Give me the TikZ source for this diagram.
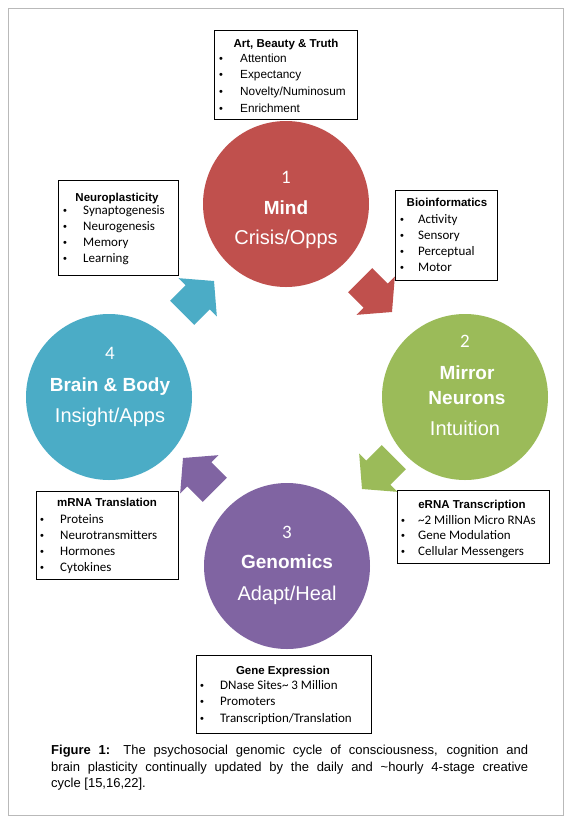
\documentclass[tikz,border=0pt]{standalone}
\usepackage{fontspec}
\setmainfont{Liberation Sans}
\newfontfamily\calib{Carlito}
\definecolor{cred}{HTML}{C0504D}
\definecolor{cgreen}{HTML}{9BBB59}
\definecolor{cpurple}{HTML}{8064A2}
\definecolor{cblue}{HTML}{4BACC6}
\newcommand\blockarr[3]{\fill[#1, shift={#2}, rotate=#3] (0,0) -- (-23,27) -- (-23,17) -- (-45,17) -- (-45,-17) -- (-23,-17) -- (-23,-27) -- cycle;}
\begin{document}
\begin{tikzpicture}[x=1pt,y=-1pt,
  stage/.style={circle, minimum size=166pt, inner sep=0pt},
  infobox/.style={draw=black, line width=0.9pt, fill=white, inner sep=0pt},
  boxtitle/.style={font=\fontsize{11.5}{12}\selectfont\bfseries, inner sep=0pt, anchor=base},
  itemA/.style={inner sep=0pt, anchor=base west, font=\fontsize{11.8}{12}\selectfont},
  itemC/.style={inner sep=0pt, anchor=base west, font=\calib\fontsize{13}{13}\selectfont},
  bul/.style={inner sep=0pt, anchor=base, font=\fontsize{11}{11}\selectfont},
  num/.style={inner sep=0pt, anchor=base, text=white, font=\calib\fontsize{19}{19}\selectfont},
  bigb/.style={inner sep=0pt, anchor=base, text=white, font=\fontsize{19}{19}\selectfont\bfseries},
  bigr/.style={inner sep=0pt, anchor=base, text=white, font=\fontsize{20}{20}\selectfont},
  captext/.style={inner sep=0pt, anchor=base west, font=\fontsize{13}{14}\selectfont}
]
\useasboundingbox (0,0) rectangle (571,823);
\fill[white] (0,0) rectangle (571,823);
\draw[gray!55, line width=0.8pt] (8.5,8.5) rectangle (563,815);

% circles
\node[stage, fill=cred]    (mind)   at (286,204) {};
\node[stage, fill=cgreen]  (mirror) at (465,397) {};
\node[stage, fill=cpurple] (genom)  at (287,566) {};
\node[stage, fill=cblue]   (brain)  at (109,397) {};

\node[num]  (m1) at (286,183) {1};
\node[bigb] (m2) at (286,214) {Mind};
\node[bigr] (m3) at (286,244) {Crisis/Opps};

\node[num]  (n1) at (465,347) {2};
\node[bigb] (n2) at (467,379) {Mirror};
\node[bigb] (n3) at (467,404) {Neurons};
\node[bigr] (n4) at (465,435) {Intuition};

\node[num]  (g1) at (287,538) {3};
\node[bigb] (g2) at (287,568) {Genomics};
\node[bigr] (g3) at (287,600) {Adapt/Heal};

\node[num]  (r1) at (110,359) {4};
\node[bigb] (r2) at (110,391) {Brain \& Body};
\node[bigr] (r3) at (110,422) {Insight/Apps};

% block arrows
\blockarr{cred}{(392,312)}{-45}
\blockarr{cgreen}{(362,489)}{-135}
\blockarr{cpurple}{(183,458)}{135}
\blockarr{cblue}{(214,281)}{45}

% box 1
\node[infobox, minimum width=143pt, minimum height=89pt] (box1) at (286,74.5) {};
\node[boxtitle] (t1) at (286,47) {Art, Beauty \& Truth};
\foreach \t [count=\i] in {Attention,Expectancy,Novelty/Numinosum,Enrichment}{
  \node[bul] (b1b\i) at (221,{62+16.7*(\i-1)}) {•};
  \node[itemA] (b1i\i) at (240,{62+16.7*(\i-1)}) {\t};
}

% box 2
\node[infobox, minimum width=102pt, minimum height=90pt] (box2) at (446,235) {};
\node[boxtitle] (t2) at (447,206) {Bioinformatics};
\foreach \t [count=\i] in {Activity,Sensory,Perceptual,Motor}{
  \node[bul] (b2b\i) at (402,{223+16.3*(\i-1)}) {•};
  \node[itemC] (b2i\i) at (418,{223+16.3*(\i-1)}) {\t};
}

% box 3
\node[infobox, minimum width=120pt, minimum height=95pt] (box3) at (118,227.5) {};
\node[boxtitle] (t3) at (117,201) {Neuroplasticity};
\foreach \t [count=\i] in {Synaptogenesis,Neurogenesis,Memory,Learning}{
  \node[bul] (b3b\i) at (65,{214+16.3*(\i-1)}) {•};
  \node[itemC] (b3i\i) at (83,{214+16.3*(\i-1)}) {\t};
}

% box 4
\node[infobox, minimum width=152pt, minimum height=73pt] (box4) at (473,527) {};
\node[boxtitle] (t4) at (472,508) {eRNA Transcription};
\foreach \t [count=\i] in {\textasciitilde2 Million Micro RNAs,Gene Modulation,Cellular Messengers}{
  \node[bul] (b4b\i) at (403,{524+15.5*(\i-1)}) {•};
  \node[itemC] (b4i\i) at (418,{524+15.5*(\i-1)}) {\t};
}

% box 5
\node[infobox, minimum width=142pt, minimum height=88pt] (box5) at (107,535) {};
\node[boxtitle] (t5) at (107,506) {mRNA Translation};
\foreach \t [count=\i] in {Proteins,Neurotransmitters,Hormones,Cytokines}{
  \node[bul] (b5b\i) at (42,{523+16*(\i-1)}) {•};
  \node[itemC] (b5i\i) at (60,{523+16*(\i-1)}) {\t};
}

% box 6
\node[infobox, minimum width=175pt, minimum height=78pt] (box6) at (283.5,694) {};
\node[boxtitle] (t6) at (283,674) {Gene Expression};
\foreach \t [count=\i] in {DNase Sites\textasciitilde\ 3 Million,Promoters,Transcription/Translation}{
  \node[bul] (b6b\i) at (202,{689+16.5*(\i-1)}) {•};
  \node[itemC] (b6i\i) at (220,{689+16.5*(\i-1)}) {\t};
}

% caption
\node[captext] (c1) at (51,754.5) {\makebox[477pt][s]{\textbf{Figure 1:} The psychosocial genomic cycle of consciousness, cognition and}};
\node[captext] (c2) at (51,771) {\makebox[477pt][s]{brain plasticity continually updated by the daily and \textasciitilde hourly 4-stage creative}};
\node[captext] (c3) at (51,787.5) {cycle [15,16,22].};
\end{tikzpicture}
\end{document}
